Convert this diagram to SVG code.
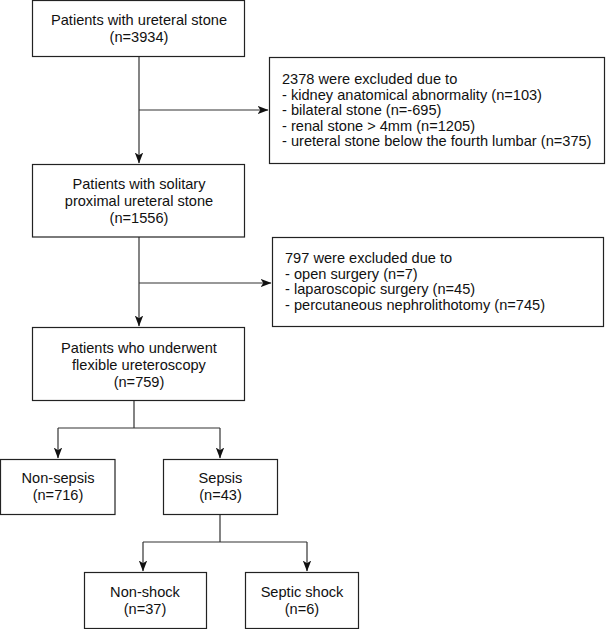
<svg xmlns="http://www.w3.org/2000/svg" width="609" height="629" viewBox="0 0 609 629">
<defs>
<marker id="arr" markerWidth="11" markerHeight="10" viewBox="0 0 11 10" refX="10.5" refY="5" orient="auto" markerUnits="userSpaceOnUse">
<path d="M0,0.8 L11,5 L0,9.2 L2.8,5 Z" fill="#111"/>
</marker>
<style>
.box{fill:#fff;stroke:#222;stroke-width:1.2}
.t{font-family:"Liberation Sans",Arial,sans-serif;font-size:14.6px;fill:#111}
.c{text-anchor:middle}
.ln{fill:none;stroke:#333;stroke-width:1.2}
.la{fill:none;stroke:#333;stroke-width:1.2;marker-end:url(#arr)}
</style>
</defs>
<rect width="609" height="629" fill="#fff"/>
<g id="connectors">
<path class="la" d="M139,56 V163"/>
<path class="la" d="M139,110 H268"/>
<path class="la" d="M139,237 V326"/>
<path class="la" d="M139,283 H271"/>
<path class="ln" d="M134,401 V428 M58,428 H220"/>
<path class="la" d="M58,428 V458"/>
<path class="la" d="M220,428 V458"/>
<path class="ln" d="M220,514 V542 M143,542 H307"/>
<path class="la" d="M143,542 V571"/>
<path class="la" d="M307,542 V571"/>
</g>
<g id="n1">
<rect class="box" x="32.5" y="0.5" width="212" height="56"/>
<text class="t c" x="139" y="25">Patients with ureteral stone</text>
<text class="t c" x="139" y="42">(n=3934)</text>
</g>
<g id="ex1">
<rect class="box" x="269.5" y="57.5" width="335" height="106"/>
<text class="t" x="282" y="84">2378 were excluded due to</text>
<text class="t" x="282" y="99.5">- kidney anatomical abnormality (n=103)</text>
<text class="t" x="282" y="115">- bilateral stone (n=-695)</text>
<text class="t" x="282" y="130.5">- renal stone &gt; 4mm (n=1205)</text>
<text class="t" x="282" y="146">- ureteral stone below the fourth lumbar (n=375)</text>
</g>
<g id="n2">
<rect class="box" x="32.5" y="164.5" width="212" height="72.5"/>
<text class="t c" x="139" y="189">Patients with solitary</text>
<text class="t c" x="139" y="206">proximal ureteral stone</text>
<text class="t c" x="139" y="223">(n=1556)</text>
</g>
<g id="ex2">
<rect class="box" x="272.5" y="237.5" width="331" height="89"/>
<text class="t" x="285" y="263">797 were excluded due to</text>
<text class="t" x="285" y="278.5">- open surgery (n=7)</text>
<text class="t" x="285" y="294">- laparoscopic surgery (n=45)</text>
<text class="t" x="285" y="309.5">- percutaneous nephrolithotomy (n=745)</text>
</g>
<g id="n3">
<rect class="box" x="32.5" y="327.5" width="212" height="73"/>
<text class="t c" x="139" y="353">Patients who underwent</text>
<text class="t c" x="139" y="370">flexible ureteroscopy</text>
<text class="t c" x="139" y="387">(n=759)</text>
</g>
<g id="n4">
<rect class="box" x="0.5" y="459.5" width="114.5" height="55"/>
<text class="t c" x="58" y="483">Non-sepsis</text>
<text class="t c" x="58" y="500">(n=716)</text>
</g>
<g id="n5">
<rect class="box" x="163.5" y="459.5" width="114" height="55"/>
<text class="t c" x="220.5" y="483">Sepsis</text>
<text class="t c" x="220.5" y="500">(n=43)</text>
</g>
<g id="n6">
<rect class="box" x="84.5" y="572.5" width="122" height="56"/>
<text class="t c" x="145" y="597">Non-shock</text>
<text class="t c" x="145" y="614">(n=37)</text>
</g>
<g id="n7">
<rect class="box" x="245.5" y="572.5" width="113" height="56"/>
<text class="t c" x="302" y="597">Septic shock</text>
<text class="t c" x="302" y="614">(n=6)</text>
</g>
</svg>
